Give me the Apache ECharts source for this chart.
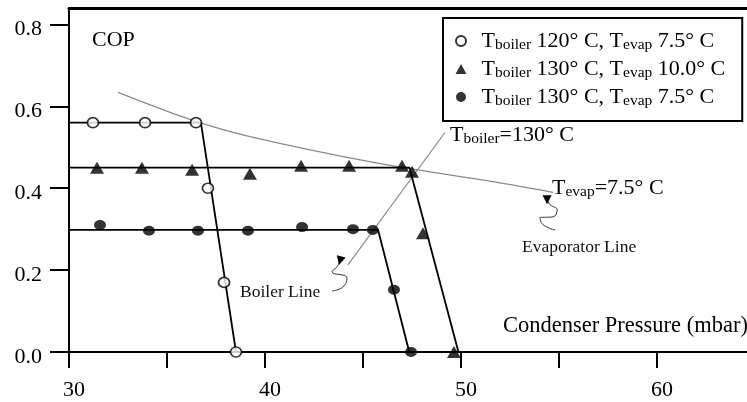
<!DOCTYPE html>
<html>
<head>
<meta charset="utf-8">
<script src="https://cdn.jsdelivr.net/npm/echarts@6/dist/echarts.min.js"></script>
<style>
  html, body { margin: 0; padding: 0; background: #fff; }
  #chart { width: 747px; height: 402px; }
</style>
</head>
<body>
<div id="chart"></div>
<script>
// Axis ticks and labels
const xTicks = [30, 35, 40, 45, 50, 55, 60];
const xLabels = [30, 40, 50, 60];
const yTicks = [0, 0.2, 0.4, 0.6, 0.8];

// Run conditions (legend)
const boilerTemps = ['120', '130', '130'];
const evapTemps = ['7.5', '10.0', '7.5'];

// Measured COP vs condenser pressure (mbar)
const run120evap75 = [[31.22, 0.56], [33.88, 0.56], [36.48, 0.56], [37.09, 0.40], [37.91, 0.17], [38.52, 0.0]];
const run130evap100 = [[31.43, 0.45], [33.72, 0.45], [36.28, 0.445], [39.23, 0.435], [41.84, 0.455], [44.29, 0.455], [46.99, 0.455], [47.5, 0.44], [48.06, 0.29], [49.64, 0.0]];
const run130evap75 = [[31.58, 0.31], [34.08, 0.296], [36.58, 0.296], [39.13, 0.296], [41.89, 0.305], [44.49, 0.30], [45.5, 0.298], [46.58, 0.152], [47.45, 0.0]];

// Idealised performance curves: plateau then cut-off
const fit120evap75 = [[30, 0.56], [36.73, 0.56], [38.52, 0]];
const fit130evap100 = [[30, 0.45], [47.37, 0.45], [49.87, 0]];
const fit130evap75 = [[30, 0.298], [45.77, 0.298], [47.36, 0]];

// Limiting lines
const evaporatorLine = [[32.5, 0.634], [36.17, 0.568], [39.23, 0.526], [45.87, 0.46], [51.99, 0.413], [54.69, 0.39]];
const boilerLine = [[44.23, 0.213], [49.18, 0.536]];

// Curly pointers to the limiting lines (head first)
const boilerPointer = [[43.83, 0.223], [43.67, 0.208], [43.42, 0.196], [44.18, 0.181], [43.98, 0.159], [43.42, 0.149]];
const evapPointer = [[54.39, 0.372], [54.54, 0.36], [54.9, 0.347], [54.69, 0.33], [54.03, 0.328], [54.18, 0.311], [54.8, 0.298]];

const FONT = '"Liberation Serif", "Times New Roman", serif';
const INK = '#000';
const ELLIPSE = 'path://M-1,0A1,1,0,1,0,1,0A1,1,0,1,0,-1,0Z';

const names = boilerTemps.map((b, i) => 'boiler ' + b + ' evap ' + evapTemps[i]);

// Rich-text styles for T with a subscript
const subRich = {
  g: { width: 10 },
  t: { fontFamily: FONT, fontSize: 22, lineHeight: 24, color: INK, fill: INK },
  s: { fontFamily: FONT, fontSize: 15.5, lineHeight: 15, verticalAlign: 'bottom', color: INK, fill: INK }
};

function pointer(points, rotate) {
  return points.map((p, i) => i === 0
    ? { value: p, symbol: 'triangle', symbolSize: 9, symbolRotate: rotate }
    : { value: p, symbol: 'none' });
}

function fitSeries(data) {
  return {
    type: 'line', data: data, symbol: 'none', silent: true, z: 3,
    lineStyle: { color: INK, width: 1.8 }
  };
}

const chart = echarts.init(document.getElementById('chart'), null, { renderer: 'canvas' });

chart.setOption({
  animation: false,
  backgroundColor: '#fff',
  grid: { left: 69, right: 0, top: 8, bottom: 50 },
  xAxis: [{
    type: 'value', min: 30, max: 64.59,
    axisLine: { show: true, lineStyle: { color: INK, width: 2 } },
    axisTick: { show: true, customValues: xTicks, length: 16, lineStyle: { color: INK, width: 2 } },
    axisLabel: { customValues: xLabels, color: INK, fontFamily: FONT, fontSize: 22, margin: 27, padding: [0, 0, 0, 10] },
    splitLine: { show: false }
  }, {
    type: 'value', position: 'top', min: 30, max: 64.59,
    axisLine: { show: true, onZero: false, lineStyle: { color: INK, width: 3 } },
    axisTick: { show: false }, axisLabel: { show: false }, splitLine: { show: false }
  }],
  yAxis: {
    type: 'value', min: 0, max: 0.84,
    axisLine: { show: true, lineStyle: { color: INK, width: 2 } },
    axisTick: { show: true, customValues: yTicks, length: 19, lineStyle: { color: INK, width: 2 } },
    axisLabel: {
      customValues: yTicks, margin: 27,
      formatter: v => '{v|' + v.toFixed(1) + '}',
      rich: { v: { color: INK, fontFamily: FONT, fontSize: 22, padding: [10, 0, 0, 0] } }
    },
    splitLine: { show: false }
  },
  legend: {
    left: 443, top: 18, orient: 'vertical', selectedMode: false,
    padding: [12, 17, 12, 12], itemGap: 5, itemWidth: 11, itemHeight: 10,
    borderColor: INK, borderWidth: 2, backgroundColor: '#fff',
    data: names,
    formatter: function (name) {
      const i = names.indexOf(name);
      return '{g|}{t|T}{s|boiler}{t| ' + boilerTemps[i] + '° C, T}{s|evap}{t| ' + evapTemps[i] + '° C}';
    },
    textStyle: { color: INK, fontFamily: FONT, fontSize: 22, rich: subRich }
  },
  series: [
    {
      type: 'line', data: evaporatorLine, smooth: 0.3, symbol: 'none', silent: true, z: 2,
      lineStyle: { color: '#8a8a8a', width: 1.2 }
    },
    {
      type: 'line', data: boilerLine, symbol: 'none', silent: true, z: 2,
      lineStyle: { color: '#8a8a8a', width: 1.2 }
    },
    {
      type: 'line', data: pointer(boilerPointer, 165), smooth: true, silent: true, z: 2,
      itemStyle: { color: INK }, lineStyle: { color: '#333', width: 1 }
    },
    {
      type: 'line', data: pointer(evapPointer, 180), smooth: true, silent: true, z: 2,
      itemStyle: { color: INK }, lineStyle: { color: '#333', width: 1 }
    },
    fitSeries(fit120evap75),
    fitSeries(fit130evap100),
    fitSeries(fit130evap75),
    {
      name: names[0], type: 'scatter', data: run120evap75, z: 5,
      symbol: ELLIPSE, symbolSize: [11, 10], symbolKeepAspect: false,
      itemStyle: { color: '#fff', borderColor: INK, borderWidth: 1.7 }
    },
    {
      name: names[1], type: 'scatter', data: run130evap100, z: 5,
      symbol: 'triangle', symbolSize: [14, 12],
      itemStyle: { color: INK }
    },
    {
      name: names[2], type: 'scatter', data: run130evap75, z: 5,
      symbol: ELLIPSE, symbolSize: [12, 10], symbolKeepAspect: false,
      itemStyle: { color: INK }
    }
  ],
  graphic: [
    { type: 'text', left: 92, top: 29, style: { text: 'COP', fontFamily: FONT, fontSize: 22, fill: INK } },
    { type: 'text', left: 503, top: 315, style: { text: 'Condenser Pressure (mbar)', fontFamily: FONT, fontSize: 22.5, fill: INK } },
    { type: 'text', left: 450, top: 124, style: { text: '{t|T}{s|boiler}{t|=130° C}', fill: INK, rich: subRich } },
    { type: 'text', left: 552, top: 177, style: { text: '{t|T}{s|evap}{t|=7.5° C}', fill: INK, rich: subRich } },
    { type: 'text', left: 240, top: 283, style: { text: 'Boiler Line', fontFamily: FONT, fontSize: 17.5, fill: '#111' } },
    { type: 'text', left: 522, top: 238, style: { text: 'Evaporator Line', fontFamily: FONT, fontSize: 17.5, fill: '#111' } }
  ]
});
</script>
</body>
</html>
